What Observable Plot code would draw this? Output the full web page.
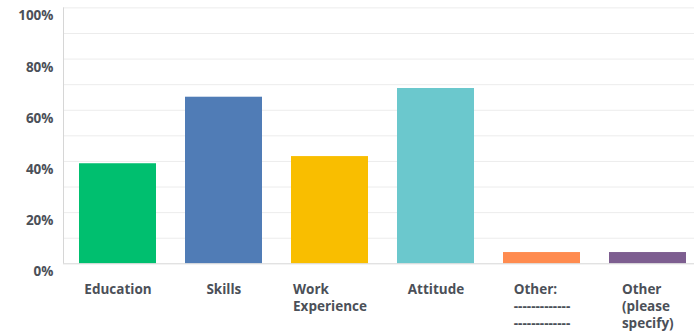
<!DOCTYPE html>
<html>
<head>
<meta charset="utf-8">
<script src="https://cdn.jsdelivr.net/npm/d3@7"></script>
<script src="https://cdn.jsdelivr.net/npm/@observablehq/plot@0.6"></script>
<style>
  html, body { margin: 0; padding: 0; background: #fff; }
  #chart svg { display: block; }
</style>
</head>
<body>
<div id="chart"></div>
<script>
const categories = ["Education", "Skills", "Work Experience", "Attitude", "Other: ------------- -------------", "Other (please specify)"];
const tickLabels = ["Education", "Skills", "Work\nExperience", "Attitude", "Other:\n-------------\n-------------", "Other\n(please\nspecify)"];
const values = [39.1, 65.1, 41.9, 68.5, 4.4, 4.4];
const colors = ["#00BF6F", "#507CB6", "#F9BE00", "#6BC8CD", "#FF8B4F", "#7D5E90"];
const yTicks = [0, 20, 40, 60, 80, 100];
const gridLines = [10, 20, 30, 40, 50, 60, 70, 80, 90, 100];

const data = categories.map((c, i) => ({category: c, value: values[i], label: tickLabels[i]}));
const textColor = "#4b5058";

const axisLine = (index, scales, values, dimensions) => {
  const g = d3.create("svg:g");
  g.append("line")
    .attr("x1", dimensions.marginLeft + 0.5)
    .attr("x2", dimensions.marginLeft + 0.5)
    .attr("y1", scales.y(100))
    .attr("y2", scales.y(0))
    .attr("stroke", "#d6d6d6");
  return g.node();
};

const chart = Plot.plot({
  width: 694,
  height: 334,
  marginLeft: 63,
  marginRight: 0,
  marginTop: 7.4,
  marginBottom: 70.7,
  style: {fontFamily: "'Open Sans', sans-serif", background: "#fff"},
  x: {domain: categories, paddingInner: 0.27, paddingOuter: 0.11, align: 0.67, axis: null},
  y: {domain: [0, 100], axis: null},
  color: {domain: categories, range: colors},
  marks: [
    Plot.ruleY(gridLines, {stroke: "#ececec"}),
    Plot.barY(data, {x: "category", y: "value", fill: "category"}),
    Plot.ruleY([0], {stroke: "#d6d6d6"}),
    axisLine,
    Plot.text(yTicks, {y: d => d, text: d => d + "%", frameAnchor: "left", textAnchor: "end", lineAnchor: "top", dx: -10, dy: 3, fontSize: 13.5, fontWeight: 700, fill: textColor}),
    Plot.text(data, {x: "category", text: "label", frameAnchor: "bottom", textAnchor: "start", lineAnchor: "top", dy: 18, fontSize: 13.5, lineHeight: 1.26, fontWeight: 700, fill: textColor})
  ]
});

document.getElementById("chart").appendChild(chart);

// center each left-aligned multi-line label block under its bar
const textGroups = chart.querySelectorAll('g[aria-label="text"]');
const xLabelGroup = textGroups[textGroups.length - 1];
xLabelGroup.querySelectorAll(":scope > text").forEach(t => {
  const w = t.getBBox().width;
  const tr = t.getAttribute("transform") || "";
  t.setAttribute("transform", tr + ` translate(${-w / 2},0)`);
});
</script>
</body>
</html>
